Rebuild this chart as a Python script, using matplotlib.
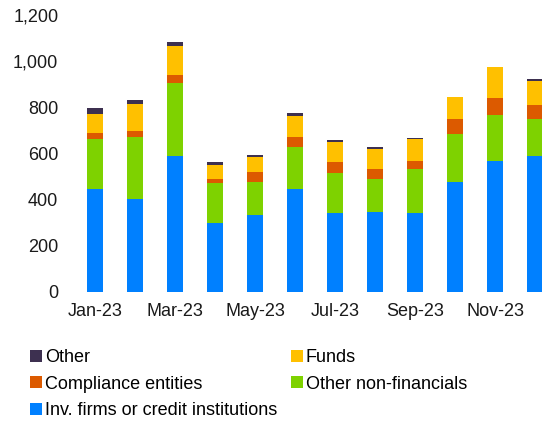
import numpy as np
import matplotlib
matplotlib.use('Agg')
import matplotlib.pyplot as plt
from matplotlib.patches import Patch

plt.rcParams['font.family'] = ['Liberation Sans', 'DejaVu Sans']

months = ['Jan-23', 'Feb-23', 'Mar-23', 'Apr-23', 'May-23', 'Jun-23',
          'Jul-23', 'Aug-23', 'Sep-23', 'Oct-23', 'Nov-23', 'Dec-23']

# segment values (bottom to top)
inv_firms = [447, 403, 590, 300, 333, 447, 342, 348, 343, 478, 568, 590]
other_nonfin = [214, 267, 315, 172, 143, 182, 174, 141, 188, 206, 198, 159]
compliance = [29, 27, 34, 18, 42, 43, 47, 42, 35, 65, 74, 61]
funds = [83, 116, 127, 60, 68, 90, 85, 89, 98, 94, 133, 106]
other = [22, 18, 19, 13, 8, 13, 11, 6, 3, 2, 2, 6]

series = [
    ('Inv. firms or credit institutions', inv_firms, '#0080FF'),
    ('Other non-financials', other_nonfin, '#7ED200'),
    ('Compliance entities', compliance, '#DC5A00'),
    ('Funds', funds, '#FFC000'),
    ('Other', other, '#3D3050'),
]

fig = plt.figure(figsize=(5.42, 4.21), dpi=100)
ax = fig.add_axes([75 / 542, 129 / 421, 480 / 542, 277 / 421])

x = np.arange(len(months))
bottom = np.zeros(len(months))
handles = {}
for name, vals, col in series:
    vals = np.array(vals, dtype=float)
    ax.bar(x, vals, width=0.4, bottom=bottom, color=col, edgecolor='none')
    bottom += vals
    handles[name] = Patch(facecolor=col, edgecolor='none')

ax.set_xlim(-0.5, 11.5)
ax.set_ylim(0, 1200)
ax.set_yticks(np.arange(0, 1201, 200))
ax.set_yticklabels([f'{v:,}' for v in range(0, 1201, 200)], fontsize=13)
ax.set_xticks(x[::2])
ax.set_xticklabels(months[::2], fontsize=13)
ax.tick_params(length=0, colors='#1a1a1a')
ax.tick_params(axis='y', pad=12)
ax.tick_params(axis='x', pad=8)
for s in ax.spines.values():
    s.set_visible(False)

order = ['Other', 'Compliance entities', 'Inv. firms or credit institutions',
         'Funds', 'Other non-financials']
fig.legend([handles[n] for n in order], order, ncol=2, frameon=False,
           loc='upper left', bbox_to_anchor=(23 / 542, 1 - 342 / 421),
           fontsize=13, handlelength=0.65, handleheight=0.65,
           handletextpad=0.15, columnspacing=0.8, labelspacing=0.52,
           borderaxespad=0)

fig.savefig('out.png', dpi=100)
